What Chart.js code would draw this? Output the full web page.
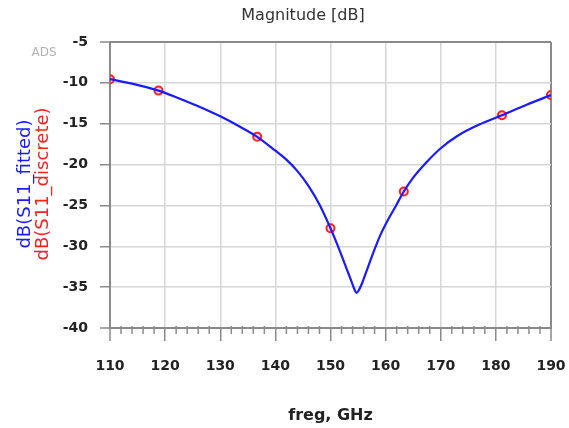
<!DOCTYPE html>
<html>
<head>
<meta charset="utf-8">
<script src="https://cdn.jsdelivr.net/npm/chart.js@4.4.0/dist/chart.umd.min.js"></script>
<style>
  html, body { margin: 0; padding: 0; background: #fff; }
</style>
</head>
<body>
<canvas id="magChart" width="569" height="428"></canvas>
<script>
// fitted S11 curve (GHz / dB)
var fitFreq = [110, 114, 118.8, 122, 126, 130, 133.5, 136.7, 140, 142, 144, 146, 148, 150, 151, 152, 153, 153.8, 154.3, 154.7,
               155.2, 155.8, 156.5, 157.7, 159, 160, 161.9, 163.3, 165, 167.5, 170, 173, 177, 181.1, 185.5, 190];
var fitMag = [-9.55, -10.1, -10.95, -11.75, -12.87, -14.1, -15.34, -16.6, -18.3, -19.4, -20.8, -22.6, -24.9, -27.8, -29.4, -31.1, -32.9, -34.3, -35.2, -35.7,
              -35.3, -34.4, -33.1, -30.9, -28.7, -27.3, -25.0, -23.3, -21.6, -19.65, -18.0, -16.5, -15.1, -13.97, -12.7, -11.5];

// discrete S11 samples
var discFreq = [110, 118.8, 136.7, 150.0, 163.3, 181.1, 190];
var discMag = [-9.55, -10.95, -16.6, -27.8, -23.3, -13.97, -11.5];

var xMin = 110, xMax = 190, xStep = 10, xMinorStep = 2;
var yMin = -40, yMax = -5, yStep = 5;

function toPoints(xs, ys) {
    var pts = [];
    for (var i = 0; i < xs.length; i++) {
        pts.push({x: xs[i], y: ys[i]});
    }
    return pts;
}

var axisGray = '#8a8a8a';
var gridGray = '#d6d6d6';

// extra texts + minor ticks on the freq axis
var extras = {
    id: 'extras',
    afterDraw: function(chart) {
        var ctx = chart.ctx;
        var xs = chart.scales.x;
        var area = chart.chartArea;
        ctx.save();
        ctx.strokeStyle = axisGray;
        ctx.lineWidth = 1.5;
        for (var f = xMin; f <= xMax; f += xMinorStep) {
            if (f % xStep === 0) continue;
            var px = xs.getPixelForValue(f);
            ctx.beginPath();
            ctx.moveTo(px, area.bottom - 2);
            ctx.lineTo(px, area.bottom + 6);
            ctx.stroke();
        }

        ctx.textAlign = 'center';
        ctx.textBaseline = 'middle';
        ctx.fillStyle = '#333';
        ctx.font = '16px "DejaVu Sans"';
        ctx.fillText('Magnitude [dB]', 303, 16);

        ctx.fillStyle = '#b0b0b0';
        ctx.font = '12px "DejaVu Sans"';
        ctx.fillText('ADS', 44, 53);

        ctx.translate(25, 184);
        ctx.rotate(-Math.PI / 2);
        ctx.font = '18px "DejaVu Sans"';
        ctx.fillStyle = '#1a1aff';
        ctx.fillText('dB(S11_fitted)', 0, 0);
        ctx.fillStyle = '#ff2020';
        ctx.fillText('dB(S11_discrete)', 0, 18);
        ctx.restore();
    }
};

var ctx = document.getElementById('magChart').getContext('2d');
var myChart = new Chart(ctx, {
    type: 'line',
    data: {
        datasets: [
            {
                label: 'dB(S11_fitted)',
                data: toPoints(fitFreq, fitMag),
                borderColor: '#1a1aff',
                borderWidth: 2.2,
                pointRadius: 0,
                cubicInterpolationMode: 'monotone',
                fill: false
            },
            {
                label: 'dB(S11_discrete)',
                data: toPoints(discFreq, discMag),
                showLine: false,
                pointRadius: 4,
                pointBorderWidth: 2,
                pointBorderColor: '#ff2020',
                pointBackgroundColor: 'rgba(255,0,0,0.15)'
            }
        ]
    },
    options: {
        responsive: false,
        animation: false,
        layout: { padding: { top: 42, left: 0, right: 18, bottom: 0 } },
        plugins: {
            legend: { display: false },
            tooltip: { enabled: false },
            title: { display: false }
        },
        scales: {
            x: {
                type: 'linear',
                min: xMin,
                max: xMax,
                afterFit: function(scale) {
                    scale.height = 100;
                    scale.paddingLeft = 0;
                    scale.paddingRight = 0;
                },
                border: { color: axisGray, width: 2 },
                grid: {
                    color: function(c) { return (c.tick && (c.tick.value === xMin || c.tick.value === xMax)) ? axisGray : gridGray; },
                    lineWidth: function(c) { return (c.tick && (c.tick.value === xMin || c.tick.value === xMax)) ? 2 : 1.5; },
                    tickColor: axisGray,
                    tickWidth: 1.5,
                    tickLength: 13
                },
                ticks: {
                    stepSize: xStep,
                    padding: 17,
                    color: '#222',
                    font: { family: 'DejaVu Sans', size: 14, weight: 'bold' }
                },
                title: {
                    display: true,
                    text: 'freg, GHz',
                    color: '#222',
                    padding: { top: 4, bottom: 3 },
                    font: { family: 'DejaVu Sans', size: 16, weight: 'bold' }
                }
            },
            y: {
                type: 'linear',
                min: yMin,
                max: yMax,
                afterFit: function(scale) {
                    scale.width = 110;
                    scale.paddingTop = 0;
                    scale.paddingBottom = 0;
                },
                border: { color: axisGray, width: 2 },
                grid: {
                    color: function(c) { return (c.tick && (c.tick.value === yMin || c.tick.value === yMax)) ? axisGray : gridGray; },
                    lineWidth: function(c) { return (c.tick && (c.tick.value === yMin || c.tick.value === yMax)) ? 2 : 1.5; },
                    tickColor: axisGray,
                    tickWidth: 1.5,
                    tickLength: 10
                },
                ticks: {
                    stepSize: yStep,
                    padding: 12,
                    color: '#222',
                    font: { family: 'DejaVu Sans', size: 14, weight: 'bold' }
                }
            }
        }
    },
    plugins: [extras]
});
</script>
</body>
</html>
